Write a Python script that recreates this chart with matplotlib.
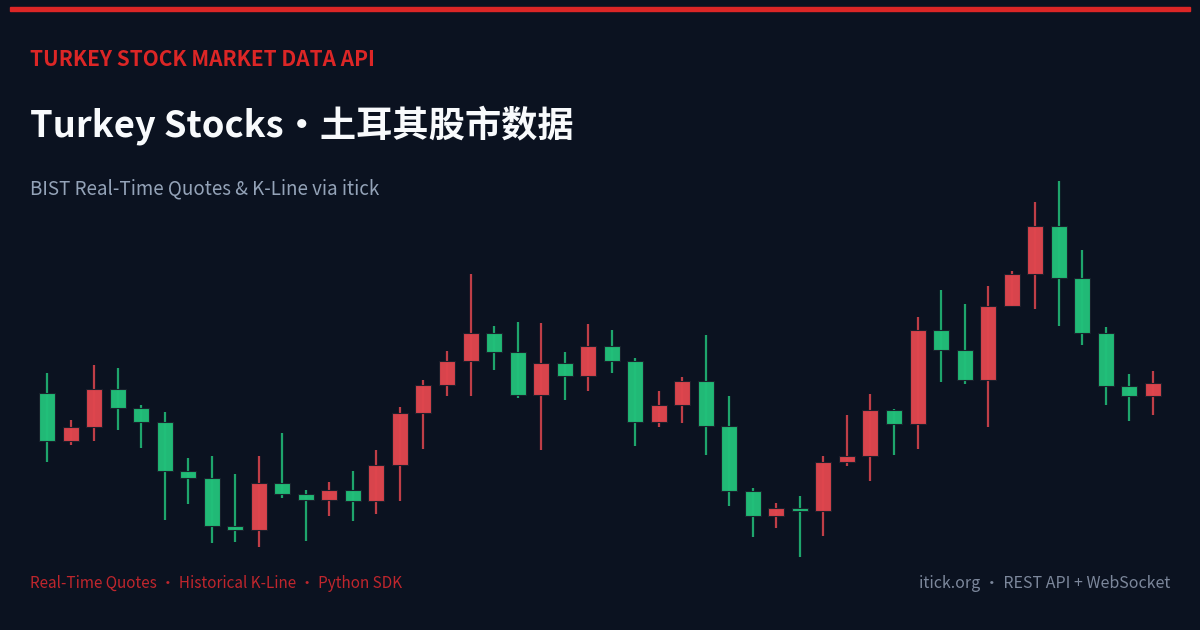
import matplotlib
matplotlib.use("Agg")
import matplotlib.pyplot as plt
from matplotlib.patches import Rectangle
import numpy as np

plt.rcParams['font.family'] = ['Noto Sans CJK SC', 'DejaVu Sans']

BG = '#0b1220'
UP = '#e0464e'      # red = up (CN convention)
DOWN = '#22c07a'    # green = down

# daily OHLC, BIST index-like values
opens = [9835, 9595, 9665, 9855, 9760, 9690, 9445, 9410, 9170, 9150,
         9385, 9330, 9300, 9350, 9295, 9475, 9735, 9875, 9995, 10135,
         10040, 9825, 9985, 9920, 10070, 9995, 9690, 9775, 9895, 9670,
         9345, 9220, 9260, 9245, 9490, 9520, 9750, 9680, 10150, 10050,
         9900, 10270, 10430, 10670, 10410, 10135, 9870, 9820]
closes = [9595, 9665, 9855, 9760, 9690, 9445, 9410, 9170, 9150, 9385,
          9330, 9300, 9350, 9295, 9475, 9735, 9875, 9995, 10135, 10040,
          9825, 9985, 9920, 10070, 9995, 9690, 9775, 9895, 9670, 9345,
          9220, 9260, 9245, 9490, 9520, 9750, 9680, 10150, 10050, 9900,
          10270, 10430, 10670, 10410, 10135, 9870, 9820, 9885]
highs = [9935, 9700, 9975, 9960, 9775, 9740, 9510, 9520, 9430, 9520,
         9635, 9350, 9390, 9445, 9550, 9765, 9900, 10045, 10430, 10170,
         10190, 10185, 10040, 10180, 10150, 10010, 9845, 9915, 10125, 9820,
         9360, 9285, 9320, 9520, 9725, 9830, 9755, 10215, 10350, 10280,
         10370, 10445, 10790, 10895, 10550, 10165, 9930, 9945]
lows = [9490, 9575, 9595, 9650, 9560, 9200, 9280, 9085, 9090, 9065,
        9310, 9095, 9220, 9195, 9230, 9295, 9555, 9820, 9820, 9950,
        9810, 9550, 9800, 9845, 9935, 9570, 9665, 9685, 9525, 9270,
        9115, 9160, 9015, 9120, 9470, 9395, 9525, 9555, 9890, 9880,
        9665, 10270, 10255, 10170, 10075, 9775, 9695, 9725]

fig = plt.figure(figsize=(12, 6.3), dpi=100)
fig.patch.set_facecolor(BG)

# top accent bar
fig.patches.append(Rectangle((10 / 1200, 1 - 11 / 630), 1180 / 1200, 4.5 / 630,
                             transform=fig.transFigure, color='#dc2626', zorder=5))

ax = fig.add_axes([30 / 1200, 60 / 630, 1140 / 1200, 400 / 630])
ax.set_facecolor(BG)
ax.set_xlim(-0.7225, 47.73)
ax.set_ylim(8950, 10950)
ax.axis('off')

w = 0.68
for i, (o, c, h, l) in enumerate(zip(opens, closes, highs, lows)):
    col = UP if c >= o else DOWN
    ax.vlines(i, l, h, color=col, lw=1.6, alpha=0.85, zorder=1)
    bot = min(o, c)
    hgt = max(abs(c - o), 12)
    ax.add_patch(Rectangle((i - w / 2, bot), w, hgt, facecolor=col,
                           edgecolor='#1a1f2b', lw=0.8, alpha=0.97, zorder=2))

fig.text(30 / 1200, 1 - 59 / 630, 'TURKEY STOCK MARKET DATA API', color='#dc2626',
         fontsize=15, fontweight='bold', va='center', ha='left')
fig.text(30 / 1200, 1 - 125 / 630, 'Turkey Stocks·土耳其股市数据', color='#f8fafc',
         fontsize=26.1, fontweight='bold', va='center', ha='left')
fig.text(30 / 1200, 1 - 189 / 630, 'BIST Real-Time Quotes & K-Line via itick', color='#94a3b8',
         fontsize=13.5, va='center', ha='left')
fig.text(30 / 1200, 1 - 583 / 630, 'Real-Time Quotes · Historical K-Line · Python SDK',
         color='#c0262d', fontsize=11, va='center', ha='left')
fig.text(1170 / 1200, 1 - 583 / 630, 'itick.org · REST API + WebSocket', color='#7c879b',
         fontsize=11.5, va='center', ha='right')

fig.savefig('out.png', dpi=100, facecolor=BG)
